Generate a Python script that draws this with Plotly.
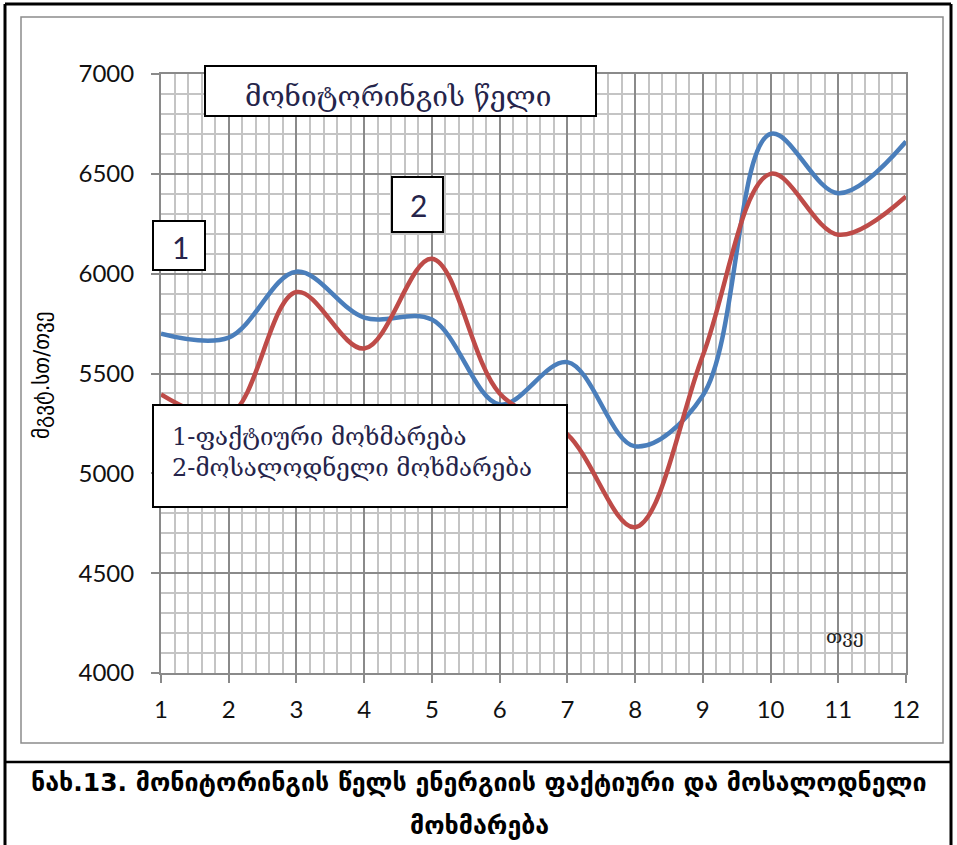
import plotly.graph_objects as go

months = [1, 2, 3, 4, 5, 6, 7, 8, 9, 10, 11, 12]
actual = [5700, 5680, 6010, 5780, 5770, 5345, 5557, 5135, 5390, 6700, 6403, 6662]
expected = [5395, 5290, 5908, 5625, 6075, 5400, 5195, 4730, 5590, 6500, 6195, 6387]

y_ticks = [4000, 4500, 5000, 5500, 6000, 6500, 7000]

title_box_text = "მონიტორინგის წელი"
legend_lines = ["1-ფაქტიური მოხმარება", "2-მოსალოდნელი მოხმარება"]
y_title = "მგვტ.სთ/თვე"
x_title = "თვე"
caption1 = "ნახ.13. მონიტორინგის წელს ენერგიის ფაქტიური და მოსალოდნელი"
caption2 = "მოხმარება"

W, H = 957, 845
L, R, T, B = 161, 906, 74, 673


def px(x):
    return (x - L) / (R - L)


def py(y):
    return (B - y) / (B - T)


fig = go.Figure()
fig.add_trace(go.Scatter(x=months, y=actual, mode="lines",
                         line=dict(color="#4a7ebb", width=4.5, shape="spline", smoothing=1.0),
                         name="1"))
fig.add_trace(go.Scatter(x=months, y=expected, mode="lines",
                         line=dict(color="#be4b48", width=4.5, shape="spline", smoothing=1.0),
                         name="2"))

shapes = []
# outer black frame
shapes.append(dict(type="line", xref="paper", yref="paper", x0=px(5), x1=px(5), y0=py(4), y1=py(850),
                   line=dict(color="black", width=3)))
shapes.append(dict(type="line", xref="paper", yref="paper", x0=px(951), x1=px(951), y0=py(4), y1=py(850),
                   line=dict(color="black", width=3)))
shapes.append(dict(type="line", xref="paper", yref="paper", x0=px(5), x1=px(951), y0=py(4), y1=py(4),
                   line=dict(color="black", width=3)))
shapes.append(dict(type="line", xref="paper", yref="paper", x0=px(5), x1=px(951), y0=py(762), y1=py(762),
                   line=dict(color="black", width=2.5)))
# chart area gray border
shapes.append(dict(type="rect", xref="paper", yref="paper", x0=px(21), x1=px(943), y0=py(17), y1=py(743),
                   line=dict(color="#8c8c8c", width=1.5), layer="below"))
# boxes
for (x0, x1, y0, y1) in [(205, 596, 66, 116), (153, 205, 221, 270), (392, 443, 177, 232), (153, 567, 405, 507)]:
    shapes.append(dict(type="rect", xref="paper", yref="paper", x0=px(x0), x1=px(x1), y0=py(y1), y1=py(y0),
                       line=dict(color="black", width=2), fillcolor="white", layer="above"))

annotations = []
txt_color = "#25244a"


def ann(x, y, text, size, family, color=txt_color, xanchor="center", angle=0, bold=False):
    annotations.append(dict(x=px(x), y=py(y), xref="paper", yref="paper", text=text,
                            xanchor=xanchor, yanchor="middle", showarrow=False, textangle=angle,
                            font=dict(family=family, size=size, color=color,
                                      weight="bold" if bold else "normal")))


ann(398, 97, title_box_text, 28, "DejaVu Serif")
ann(180, 247, "1", 30, "Lato")
ann(418, 205, "2", 30, "Lato")
for i, line in enumerate(legend_lines):
    ann(170, 437 + 31 * i, line, 24, "DejaVu Serif", xanchor="left")
ann(42, 375, y_title, 21, "DejaVu Sans", color="black", angle=-90)
ann(845, 636, x_title, 19, "DejaVu Serif", color="#222")
ann(479, 782, caption1, 25, "DejaVu Sans", color="black", bold=True)
ann(479, 826, caption2, 25, "DejaVu Sans", color="black", bold=True)

fig.update_layout(
    width=W, height=H,
    margin=dict(l=L, r=W - R, t=T, b=H - B),
    paper_bgcolor="white", plot_bgcolor="white",
    showlegend=False,
    shapes=shapes, annotations=annotations,
)
fig.update_xaxes(range=[1, 12], tickmode="array", tickvals=months, ticktext=[str(m) for m in months],
                 showgrid=True, gridcolor="#8a8a8a", gridwidth=2,
                 minor=dict(dtick=0.2, tick0=1, showgrid=True, gridcolor="#c4c4c4", gridwidth=2),
                 showline=True, mirror=True, linecolor="#8a8a8a", linewidth=2,
                 ticks="outside", ticklen=8, tickcolor="#8a8a8a", tickwidth=2,
                 ticklabelstandoff=6,
                 zeroline=False, tickfont=dict(family="Lato", size=24, color="#111"))
fig.update_yaxes(range=[4000, 7000], tickmode="array", tickvals=y_ticks,
                 showgrid=True, gridcolor="#8a8a8a", gridwidth=2,
                 minor=dict(dtick=100, tick0=4000, showgrid=True, gridcolor="#c4c4c4", gridwidth=2),
                 showline=True, mirror=True, linecolor="#8a8a8a", linewidth=2,
                 ticks="outside", ticklen=8, tickcolor="#8a8a8a", tickwidth=2,
                 ticklabelstandoff=12,
                 zeroline=False, tickfont=dict(family="Lato", size=24, color="#111"))

fig.write_html("out.html")
